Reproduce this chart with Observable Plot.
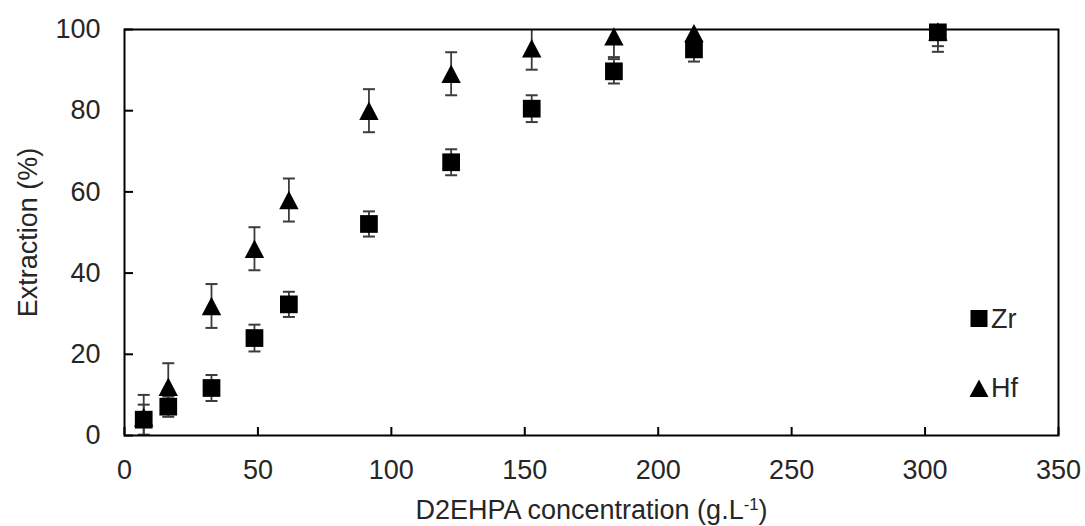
<!DOCTYPE html>
<html>
<head>
<meta charset="utf-8">
<script src="https://cdn.jsdelivr.net/npm/d3@7"></script>
<script src="https://cdn.jsdelivr.net/npm/@observablehq/plot@0.6"></script>
<style>
  body { margin: 0; background: #fff; }
  #chart { position: relative; width: 1085px; height: 526px; font-family: "Liberation Sans", Arial, sans-serif; }
  #legend { position: absolute; left: 0; top: 0; pointer-events: none; }
</style>
</head>
<body>
<div id="chart"></div>
<script>
// D2EHPA concentration (g/L) of each extraction test
const concentration = [7.2, 16.4, 32.6, 48.7, 61.6, 91.6, 122.4, 152.6, 183.4, 213.4, 304.8];

// Extraction (%) and error bar half-widths for each metal
const zrExtraction = [3.9, 7.1, 11.7, 24.0, 32.3, 52.1, 67.3, 80.5, 89.7, 95.1, 99.3];
const zrError      = [3.7, 2.5, 3.2, 3.3, 3.1, 3.1, 3.2, 3.3, 3.0, 3.0, 3.4];
const hfExtraction = [4.5, 12.0, 31.9, 46.0, 58.0, 80.0, 89.1, 95.4, 98.3, 99.1, 99.5];
const hfError      = [5.5, 5.8, 5.4, 5.3, 5.3, 5.3, 5.3, 5.3, 5.1, 5.0, 5.0];

const seriesNames = ["Zr", "Hf"];
const xTicks = [0, 50, 100, 150, 200, 250, 300, 350];
const yTicks = [0, 20, 40, 60, 80, 100];
const yTitle = "Extraction (%)";
const xTitleMain = "D2EHPA concentration (g.L";
const xTitleSup = "-1";
const xTitleEnd = ")";

const rows = (metal, values, errors) =>
  concentration.map((c, i) => ({metal, c, v: values[i], lo: values[i] - errors[i], hi: values[i] + errors[i]}));
const zr = rows(seriesNames[0], zrExtraction, zrError);
const hf = rows(seriesNames[1], hfExtraction, hfError);
const all = [...hf, ...zr];

// Layout
const W = 1085, H = 526;
const mL = 124, mR = 27, mT = 29, mB = 91;
const plotW = W - mL - mR, plotH = H - mT - mB;
const fontSize = 27;
const ink = "#262626";
const barInk = "#3c3c3c";

// Symbols: a triangle centred in its bounding box, and a flat error-bar cap
const boxTriangle = {
  draw(ctx, size) {
    const r = Math.sqrt(size / Math.PI);
    ctx.moveTo(0, -r * 0.95);
    ctx.lineTo(r, r * 0.95);
    ctx.lineTo(-r, r * 0.95);
    ctx.closePath();
  }
};
const cap = {
  draw(ctx, size) {
    const r = Math.sqrt(size / Math.PI);
    ctx.moveTo(-r, 0);
    ctx.lineTo(r, 0);
  }
};

const chart = Plot.plot({
  width: W,
  height: H,
  marginLeft: mL,
  marginRight: mR,
  marginTop: mT,
  marginBottom: mB,
  style: {fontFamily: '"Liberation Sans", Arial, sans-serif', fontSize: fontSize + "px", color: ink, background: "#fff"},
  x: {domain: [0, 350]},
  y: {domain: [0, 100]},
  marks: [
    // error bars, clipped to the plot area
    Plot.ruleX(all, {x: "c", y1: "lo", y2: "hi", stroke: barInk, strokeWidth: 1.8, clip: true}),
    Plot.dot(all, {x: "c", y: "hi", symbol: cap, r: 6, stroke: barInk, strokeWidth: 2, fill: "none", clip: true}),
    Plot.dot(all, {x: "c", y: "lo", symbol: cap, r: 6, stroke: barInk, strokeWidth: 2, fill: "none", clip: true}),
    // Hf triangles, then Zr squares on top
    Plot.dot(hf, {x: "c", y: "v", symbol: boxTriangle, r: 9.7, fill: "#000", stroke: "none"}),
    Plot.dot(zr, {x: "c", y: "v", symbol: "square", r: 10, fill: "#000", stroke: "none"}),
    // plot border
    Plot.frame({stroke: "#000", strokeWidth: 2}),
    // inward tick marks
    Plot.ruleY(yTicks, {y: d => d, insetRight: plotW - 9, stroke: "#000", strokeWidth: 2}),
    Plot.ruleX(xTicks, {x: d => d, insetTop: plotH - 8, stroke: "#000", strokeWidth: 2}),
    // axes
    Plot.axisY({ticks: yTicks, tickSize: 0, tickPadding: 24, label: null, fill: ink}),
    Plot.axisX({ticks: xTicks, tickSize: 0, tickPadding: 24, label: null, fill: ink}),
    // axis titles
    Plot.text([yTitle], {text: d => d, frameAnchor: "left", rotate: -90, textAnchor: "middle", lineAnchor: "middle", dx: -96, fill: ink}),
    Plot.text([xTitleMain + xTitleSup + xTitleEnd], {text: d => d, frameAnchor: "bottom", textAnchor: "middle", lineAnchor: "bottom", dy: 83, fill: ink})
  ]
});

document.getElementById("chart").appendChild(chart);

// Rebuild the x-axis title so the exponent is raised
d3.select(chart).selectAll("text")
  .filter(function () { return this.textContent === xTitleMain + xTitleSup + xTitleEnd; })
  .each(function () {
    const t = d3.select(this);
    t.text(null);
    t.append("tspan").text(xTitleMain);
    t.append("tspan").attr("dy", "-0.5em").attr("font-size", "0.62em").text(xTitleSup);
    t.append("tspan").attr("dy", "0.31em").text(xTitleEnd);
  });

// Legend drawn over the plot's right side
const legend = d3.select("#chart").append("svg")
  .attr("id", "legend").attr("width", W).attr("height", H)
  .style("font-family", '"Liberation Sans", Arial, sans-serif')
  .style("font-size", "27px");
const legendItems = [
  {name: seriesNames[0], shape: d3.symbol(d3.symbolSquare, 17 * 17)(), cy: 318.5, base: 328},
  {name: seriesNames[1], shape: "M0,-9L9.5,8.5L-9.5,8.5Z", cy: 388.5, base: 397}
];
legendItems.forEach(item => {
  legend.append("path").attr("d", item.shape).attr("transform", `translate(979,${item.cy})`).attr("fill", "#000");
  legend.append("text").attr("x", 991).attr("y", item.base).attr("fill", ink).text(item.name);
});
</script>
</body>
</html>
